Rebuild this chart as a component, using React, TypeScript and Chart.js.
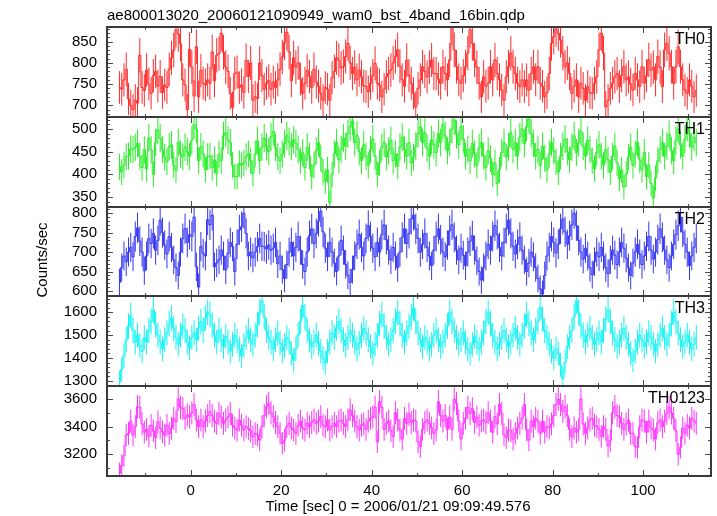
import React, { useEffect, useRef } from 'react';
import { Chart, registerables } from 'chart.js';

Chart.register(...registerables);

const FONT = "'Liberation Sans', Arial, Helvetica, sans-serif";
Chart.defaults.font.family = FONT;

// ---- binning (light curve with 0.5 s bins, time in seconds from T0) ----
const BIN_START = -15.75;
const BIN_WIDTH = 0.5;

// ---- data (counts/sec) ----
const TH0 = [
  742, 738, 760, 785, 715, 700, 690, 712, 705, 818, 742, 735, 783, 750, 728, 770, 780, 745, 768, 730,
  748, 742, 785, 812, 830, 878, 868, 845, 760, 748, 690, 832, 790, 722, 838, 720, 782, 752, 748, 760,
  752, 826, 758, 818, 822, 870, 825, 790, 780, 728, 695, 775, 778, 742, 748, 730, 806, 768, 800, 712,
  720, 716, 800, 770, 738, 752, 758, 738, 755, 742, 760, 785, 814, 848, 872, 826, 758, 812, 790, 800,
  762, 728, 752, 782, 768, 742, 785, 755, 745, 728, 712, 742, 738, 712, 765, 780, 812, 806, 788, 792,
  815, 846, 800, 775, 790, 760, 783, 767, 746, 744, 732, 752, 770, 799, 752, 748, 720, 738, 767, 775,
  783, 800, 815, 831, 792, 760, 745, 806, 770, 752, 728, 696, 740, 760, 791, 780, 767, 790, 807, 775,
  775, 762, 752, 791, 775, 760, 807, 884, 831, 791, 760, 752, 770, 791, 823, 878, 846, 807, 790, 752,
  720, 767, 745, 752, 791, 760, 807, 775, 760, 736, 712, 767, 791, 823, 791, 775, 752, 744, 760, 744,
  760, 736, 775, 791, 760, 791, 752, 745, 720, 730, 775, 846, 862, 880, 870, 854, 823, 791, 800, 775,
  728, 745, 760, 720, 752, 740, 712, 744, 730, 728, 752, 767, 831, 870, 823, 696, 712, 740, 752, 767,
  775, 744, 770, 791, 760, 767, 750, 736, 775, 760, 744, 791, 752, 770, 807, 783, 790, 760, 815, 790,
  744, 831, 846, 823, 791, 752, 791, 838, 791, 760, 736, 728, 760, 745, 720, 735,
];

const TH1 = [
  417, 405, 420, 439, 440, 456, 455, 460, 468, 440, 415, 454, 412, 480, 454, 400, 470, 498, 480, 455,
  438, 428, 461, 465, 420, 409, 470, 445, 439, 460, 450, 440, 475, 510, 500, 430, 461, 445, 410, 439,
  440, 415, 432, 402, 444, 430, 485, 492, 476, 470, 420, 395, 395, 424, 420, 425, 439, 445, 430, 402,
  445, 474, 430, 460, 480, 461, 450, 483, 495, 460, 439, 430, 445, 468, 485, 472, 461, 476, 468, 455,
  430, 448, 415, 460, 440, 395, 420, 452, 470, 436, 405, 385, 410, 338, 400, 445, 470, 432, 455, 480,
  462, 490, 505, 518, 470, 486, 450, 430, 465, 440, 420, 455, 478, 440, 400, 425, 460, 470, 438, 452,
  475, 430, 445, 418, 460, 482, 455, 440, 470, 425, 438, 462, 490, 505, 470, 492, 458, 440, 476, 465,
  448, 490, 470, 510, 485, 452, 470, 500, 520, 488, 465, 505, 478, 440, 455, 430, 468, 445, 420, 458,
  470, 440, 415, 452, 435, 400, 425, 380, 410, 448, 470, 438, 460, 492, 455, 470, 440, 482, 500, 468,
  505, 522, 490, 468, 440, 455, 420, 462, 435, 410, 445, 470, 452, 428, 405, 440, 462, 478, 450, 432,
  460, 485, 448, 470, 495, 462, 440, 475, 455, 430, 412, 448, 465, 440, 420, 455, 432, 405, 440, 462,
  425, 390, 410, 372, 400, 438, 460, 420, 445, 470, 432, 410, 448, 395, 420, 380, 348, 392, 430, 455,
  470, 440, 462, 488, 452, 430, 475, 500, 465, 440, 478, 505, 490, 460, 482, 470,
];

const TH2 = [
  622, 660, 690, 675, 700, 712, 688, 740, 762, 728, 700, 652, 690, 735, 722, 748, 705, 730, 782, 750,
  718, 695, 740, 712, 680, 660, 640, 700, 735, 760, 725,
  745, 740, 790, 662, 610, 714, 697, 690, 783, 770, 795, 662, 672, 680, 705, 690, 654, 697, 725, 714,
  650, 720, 757, 765, 800, 748, 690, 700, 685, 700, 714, 735, 715, 714, 708, 718, 705, 710, 725, 670,
  690, 655, 632, 668, 700, 725, 690, 712, 740, 705, 668, 650, 700, 742, 760, 722, 748, 780, 805, 752,
  710, 688, 725, 700, 672, 650, 690, 730, 705, 668, 640, 622, 655, 690, 720, 745, 712, 690, 735, 768,
  740, 710, 688, 725, 700, 745, 770, 732, 705, 680, 712, 690, 660, 700, 738, 760, 722, 748, 785, 795,
  760, 735, 700, 720, 748, 712, 690, 665, 705, 740, 760, 732, 700, 688, 718, 755, 770, 738, 705, 680,
  710, 692, 665, 700, 728, 742, 705, 678, 650, 628, 660, 690, 720, 705, 740, 768, 745, 712, 690, 725,
  760, 782, 748, 715, 695, 720, 738, 705, 680, 650, 672, 700, 688, 660, 632, 605, 592, 640, 690, 712,
  740, 725, 698, 720, 760, 785, 752, 720, 742, 770, 800, 768, 730, 700, 682, 710, 690, 660, 642, 675,
  700, 688, 712, 690, 660, 645, 680, 705, 692, 668, 700, 725, 710, 685, 660, 640, 672, 700, 720, 695,
  668, 690, 715, 740, 705, 682, 700, 732, 760, 738, 705, 680, 660, 690, 720, 745, 768, 790, 752, 720,
  700, 665, 690, 712, 735,
];

const TH3 = [
  1295, 1350, 1410, 1480, 1540, 1585, 1520, 1470, 1500, 1455, 1430, 1490, 1470, 1520, 1560, 1610, 1545, 1500, 1470, 1440,
  1480, 1510, 1550, 1575, 1530, 1490, 1460, 1500, 1540, 1520, 1470, 1445, 1490, 1510, 1480, 1530, 1560, 1520, 1575, 1600,
  1590, 1545, 1500, 1470, 1520, 1480, 1450, 1495, 1470, 1430, 1460, 1500, 1475, 1440, 1410, 1455, 1490, 1520, 1480, 1460,
  1500, 1545, 1600, 1650, 1580, 1520, 1490, 1470, 1440, 1480, 1510, 1465, 1430, 1455, 1490, 1470, 1420, 1390, 1440, 1500,
  1560, 1630, 1580, 1520, 1480, 1450, 1470, 1500, 1465, 1430, 1400, 1380, 1430, 1470, 1510, 1490, 1530, 1560, 1520, 1480,
  1455, 1490, 1520, 1500, 1470, 1440, 1465, 1500, 1530, 1510, 1480, 1450, 1420, 1460, 1500, 1550, 1590, 1540, 1490, 1460,
  1480, 1520, 1560, 1600, 1550, 1500, 1470, 1510, 1540, 1580, 1620, 1560, 1510, 1480, 1450, 1490, 1470, 1440, 1460, 1500,
  1520, 1480, 1450, 1470, 1500, 1540, 1600, 1560, 1520, 1490, 1460, 1480, 1510, 1470, 1440, 1420, 1460, 1495, 1470, 1440,
  1470, 1510, 1560, 1600, 1550, 1500, 1470, 1440, 1460, 1490, 1520, 1480, 1450, 1470, 1500, 1530, 1490, 1460, 1500, 1540,
  1590, 1550, 1510, 1480, 1520, 1560, 1620, 1570, 1520, 1490, 1460, 1430, 1400, 1440, 1420, 1370, 1310, 1380, 1450, 1490,
  1520, 1580, 1650, 1600, 1540, 1500, 1470, 1500, 1530, 1490, 1460, 1480, 1510, 1470, 1520, 1570, 1610, 1560, 1510, 1480,
  1450, 1470, 1500, 1530, 1490, 1460, 1420, 1390, 1430, 1470, 1500, 1480, 1450, 1470, 1510, 1490, 1460, 1430, 1460, 1500,
  1530, 1490, 1460, 1500, 1550, 1600, 1560, 1510, 1480, 1450, 1470, 1500, 1470, 1440, 1460, 1490,
];

const TH0123 = [
  3062, 3120, 3190, 3339, 3350, 3440, 3339, 3400, 3544, 3540, 3420, 3360, 3380, 3330, 3410, 3370, 3320, 3436, 3390, 3363,
  3340, 3410, 3350, 3388, 3460, 3436, 3600, 3540, 3530, 3460, 3484, 3470, 3500,
  3560, 3448, 3400, 3448, 3400, 3440, 3480, 3508, 3480, 3440, 3424, 3496, 3470, 3424, 3448, 3470, 3496, 3410, 3390, 3376,
  3448, 3410, 3376, 3400, 3385, 3370, 3327, 3350, 3340, 3303, 3400, 3480, 3544, 3568, 3500, 3472, 3430, 3400, 3351, 3280,
  3300, 3400, 3424, 3390, 3376, 3351, 3410, 3440, 3390, 3376, 3424, 3400, 3430, 3448, 3424, 3440, 3472, 3410, 3400, 3448,
  3376, 3400, 3424, 3400, 3440, 3448, 3424, 3400, 3450, 3520, 3480, 3440, 3400, 3376,
  3410, 3420, 3380, 3440, 3460, 3470, 3540, 3290, 3580, 3540, 3380, 3424, 3440, 3370, 3327, 3500, 3448, 3376, 3310, 3460,
  3424, 3490, 3430, 3448, 3440, 3290, 3255, 3380, 3430, 3448, 3424, 3390, 3351, 3376, 3580, 3480, 3440, 3480, 3380, 3470,
  3380, 3600, 3568, 3440, 3310, 3424, 3460, 3540, 3496, 3530, 3430, 3470, 3410, 3440, 3448, 3430, 3500, 3440, 3360, 3472,
  3420, 3560, 3496, 3340, 3320, 3376, 3370, 3310, 3351, 3390, 3424, 3460, 3560, 3376, 3303, 3440, 3400, 3460, 3440, 3351,
  3440, 3360, 3400, 3390, 3420, 3480, 3560, 3600, 3560, 3510, 3544, 3480, 3380, 3327, 3390, 3360, 3380, 3600, 3420, 3351,
  3390, 3448, 3460, 3410, 3400, 3380, 3330, 3400, 3380, 3260, 3300, 3500, 3544, 3480, 3470, 3424, 3380, 3420, 3448, 3350,
  3351, 3255, 3250, 3400, 3448, 3440, 3360, 3440, 3390, 3376, 3310, 3430, 3448, 3400, 3440, 3496, 3540, 3500, 3460, 3370,
  3200, 3250, 3390, 3351, 3410, 3390, 3460, 3440, 3424,
];

// ---- axes ----
const X_MIN = -18.5;
const X_MAX = 115;
const X_LABELS = [0, 20, 40, 60, 80, 100];
const X_MINOR = [-10, 10, 30, 50, 70, 90, 110];

const TH0_TICKS = [700, 750, 800, 850];
const TH1_TICKS = [350, 400, 450, 500];
const TH2_TICKS = [600, 650, 700, 750, 800];
const TH3_TICKS = [1300, 1400, 1500, 1600];
const TH0123_TICKS = [3200, 3400, 3600];

const TITLE = 'ae800013020_20060121090949_wam0_bst_4band_16bin.qdp';
const X_TITLE = 'Time [sec] 0 = 2006/01/21 09:09:49.576';
const Y_TITLE = 'Counts/sec';

type Extra = { text: string; x: number; y: number; align: CanvasTextAlign; rotate?: boolean };

type PanelDef = {
  name: string;
  values: number[];
  color: string;
  min: number;
  max: number;
  ticks: number[];
  minorStep: number;
  top: number; // page y of plot top
  bottom: number; // page y of plot bottom
};

const PANELS: PanelDef[] = [
  { name: 'TH0', values: TH0, color: '#ff2a2a', min: 672.4, max: 884.7, ticks: TH0_TICKS, minorStep: 10, top: 27, bottom: 117 },
  { name: 'TH1', values: TH1, color: '#26ee26', min: 328, max: 526.5, ticks: TH1_TICKS, minorStep: 10, top: 117, bottom: 207 },
  { name: 'TH2', values: TH2, color: '#3434f2', min: 587, max: 816, ticks: TH2_TICKS, minorStep: 10, top: 207, bottom: 296 },
  { name: 'TH3', values: TH3, color: '#14f4f4', min: 1278, max: 1671, ticks: TH3_TICKS, minorStep: 20, top: 296, bottom: 386 },
  { name: 'TH0123', values: TH0123, color: '#ff34ff', min: 3043, max: 3694, ticks: TH0123_TICKS, minorStep: 100, top: 386, bottom: 476 },
];

const PAGE_W = 717;
const PAGE_H = 516;
const PLOT_LEFT = 107;
const PLOT_RIGHT = 711;
const PAD = 6;
const X_AXIS_H = 40;

function geometry(i: number) {
  const p = PANELS[i];
  const last = i === PANELS.length - 1;
  const canvasTop = i === 0 ? 0 : p.top - PAD;
  const canvasBottom = last ? PAGE_H : p.bottom + PAD;
  return {
    canvasTop,
    height: canvasBottom - canvasTop,
    padTop: p.top - canvasTop,
    padBottom: last ? 0 : PAD,
    last,
  };
}

function extrasFor(i: number, canvasTop: number): Extra[] {
  if (i === 0) return [{ text: TITLE, x: 107, y: 19.5 - canvasTop, align: 'left' }];
  if (i === 2) return [{ text: Y_TITLE, x: 47, y: 260 - canvasTop, align: 'center', rotate: true }];
  if (i === PANELS.length - 1) return [{ text: X_TITLE, x: 398, y: 511 - canvasTop, align: 'center' }];
  return [];
}

function zeroPadding(s: any) {
  s.paddingTop = 0;
  s.paddingBottom = 0;
  s.paddingLeft = 0;
  s.paddingRight = 0;
}

function makeChart(canvas: HTMLCanvasElement, i: number) {
  const p = PANELS[i];
  const g = geometry(i);
  const times = p.values.map((_, k) => BIN_START + k * BIN_WIDTH);
  const extras = extrasFor(i, g.canvasTop);

  const panelPlugin = {
    id: 'panelDecor' + i,
    beforeDatasetsDraw(chart: any) {
      const { ctx, chartArea: a, scales } = chart;
      const xs = scales.x;
      const ys = scales.y;
      ctx.save();
      ctx.beginPath();
      ctx.rect(a.left, a.top, a.right - a.left, a.bottom - a.top);
      ctx.clip();
      ctx.strokeStyle = p.color;
      ctx.lineWidth = 1;
      ctx.beginPath();
      p.values.forEach((v, k) => {
        const err = Math.sqrt(v / BIN_WIDTH);
        const x = xs.getPixelForValue(times[k]);
        ctx.moveTo(x, ys.getPixelForValue(v - err));
        ctx.lineTo(x, ys.getPixelForValue(v + err));
      });
      ctx.stroke();
      ctx.restore();
    },
    afterDraw(chart: any) {
      const { ctx, chartArea: a, scales } = chart;
      const xs = scales.x;
      const ys = scales.y;
      ctx.save();
      // tick marks
      ctx.strokeStyle = '#4a4a4a';
      ctx.lineWidth = 1;
      ctx.beginPath();
      const first = Math.ceil(p.min / p.minorStep);
      const lastT = Math.floor(p.max / p.minorStep);
      for (let n = first; n <= lastT; n++) {
        const v = n * p.minorStep;
        const major = p.ticks.some((t) => Math.abs(t - v) < 1e-6);
        const len = major ? 6 : 3;
        const y = Math.round(ys.getPixelForValue(v)) + 0.5;
        ctx.moveTo(a.left, y);
        ctx.lineTo(a.left + len, y);
        ctx.moveTo(a.right, y);
        ctx.lineTo(a.right - len, y);
      }
      const xt = (vals: number[], len: number) => {
        vals.forEach((v) => {
          if (v < X_MIN || v > X_MAX) return;
          const x = Math.round(xs.getPixelForValue(v)) + 0.5;
          ctx.moveTo(x, a.top);
          ctx.lineTo(x, a.top + len);
          ctx.moveTo(x, a.bottom);
          ctx.lineTo(x, a.bottom - len);
        });
      };
      xt(X_LABELS, 6);
      xt(X_MINOR, 3);
      ctx.stroke();
      // frame
      ctx.strokeStyle = '#3a3a3a';
      ctx.lineWidth = 2;
      ctx.strokeRect(a.left, a.top, a.right - a.left, a.bottom - a.top);
      // panel label
      ctx.fillStyle = '#000';
      ctx.font = `16px ${FONT}`;
      ctx.textAlign = 'right';
      ctx.textBaseline = 'alphabetic';
      ctx.fillText(p.name, a.right - 6, a.top + 16.5);
      // extra texts
      ctx.font = `15px ${FONT}`;
      extras.forEach((e) => {
        ctx.save();
        ctx.textAlign = e.align;
        ctx.textBaseline = 'alphabetic';
        if (e.rotate) {
          ctx.translate(e.x, e.y);
          ctx.rotate(-Math.PI / 2);
          ctx.fillText(e.text, 0, 0);
        } else {
          ctx.fillText(e.text, e.x, e.y);
        }
        ctx.restore();
      });
      ctx.restore();
    },
  };

  return new Chart(canvas, {
    type: 'line',
    data: {
      datasets: [
        {
          data: p.values.map((v, k) => ({ x: times[k], y: v })),
          borderColor: p.color,
          borderWidth: 1,
          pointRadius: 0,
          stepped: 'middle',
          fill: false,
          clip: 0,
        } as any,
      ],
    },
    options: {
      responsive: false,
      maintainAspectRatio: false,
      animation: false,
      devicePixelRatio: 1,
      events: [],
      layout: { padding: { left: 0, right: PAGE_W - PLOT_RIGHT, top: g.padTop, bottom: g.padBottom } },
      plugins: { legend: { display: false }, tooltip: { enabled: false }, title: { display: false } },
      scales: {
        x: {
          type: 'linear',
          min: X_MIN,
          max: X_MAX,
          grid: { display: false, drawTicks: false },
          border: { display: false },
          ticks: {
            display: g.last,
            padding: 6,
            color: '#000',
            font: { size: 15, family: FONT },
            maxRotation: 0,
            autoSkip: false,
            callback: (v: any) => String(v),
          },
          afterBuildTicks: (s: any) => {
            s.ticks = X_LABELS.map((v) => ({ value: v }));
          },
          afterFit: (s: any) => {
            s.height = g.last ? X_AXIS_H : 0;
            zeroPadding(s);
          },
        },
        y: {
          type: 'linear',
          min: p.min,
          max: p.max,
          grid: { display: false, drawTicks: false },
          border: { display: false },
          ticks: {
            padding: 10,
            color: '#000',
            font: { size: 15, family: FONT },
            autoSkip: false,
            callback: (v: any) => String(v),
          },
          afterBuildTicks: (s: any) => {
            s.ticks = p.ticks.map((v) => ({ value: v }));
          },
          afterFit: (s: any) => {
            s.width = PLOT_LEFT;
            zeroPadding(s);
          },
        },
      },
    } as any,
    plugins: [panelPlugin],
  });
}

export default function App() {
  const refs = useRef<(HTMLCanvasElement | null)[]>([]);

  useEffect(() => {
    const charts = PANELS.map((_, i) => makeChart(refs.current[i] as HTMLCanvasElement, i));
    return () => charts.forEach((c) => c.destroy());
  }, []);

  return (
    <div style={{ position: 'fixed', left: 0, top: 0, width: PAGE_W, height: PAGE_H, background: '#fff' }}>
      {PANELS.map((p, i) => {
        const g = geometry(i);
        return (
          <canvas
            key={p.name}
            ref={(el) => {
              refs.current[i] = el;
            }}
            width={PAGE_W}
            height={g.height}
            style={{ position: 'absolute', left: 0, top: g.canvasTop, width: PAGE_W, height: g.height, display: 'block' }}
          />
        );
      })}
    </div>
  );
}
